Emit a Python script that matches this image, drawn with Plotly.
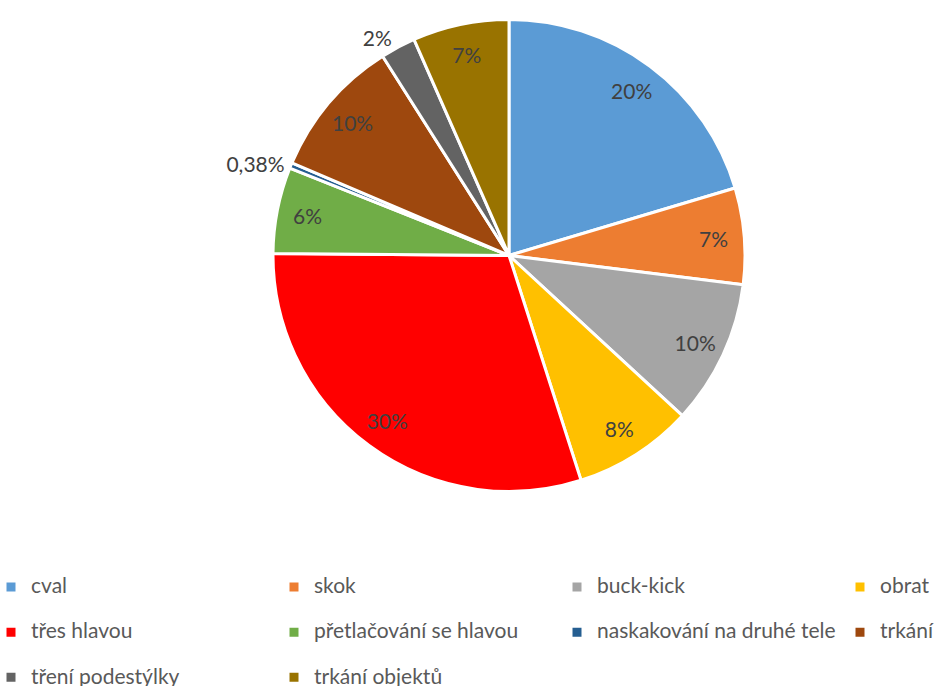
import plotly.graph_objects as go

categories = ["cval", "skok", "buck-kick", "obrat", "třes hlavou",
              "přetlačování se hlavou", "naskakování na druhé tele", "trkání",
              "tření podestýlky", "trkání objektů"]
values = [20.4, 6.6, 9.9, 8.2, 30.1, 5.9, 0.38, 9.6, 2.4, 6.6]
value_labels = ["20%", "7%", "10%", "8%", "30%", "6%", "0,38%", "10%", "2%", "7%"]
colors = ["#5B9BD5", "#ED7D31", "#A5A5A5", "#FFC000", "#FF0000",
          "#70AD47", "#255E91", "#9E480E", "#636363", "#997300"]
text_pos = ["inside", "inside", "inside", "inside", "inside",
            "inside", "outside", "inside", "outside", "inside"]

W, H = 1160, 686              # extra width so the 4-column legend fits; view is 936 wide
MB = 130                      # bottom margin (legend lives below the plot area)
PH = H - MB                   # plot-area height
cx, cy, r = 509, 255.5, 236

dom = dict(x=[(cx - r) / W, (cx + r) / W],
           y=[(PH - (cy + r)) / PH, (PH - (cy - r)) / PH])

legend_labels = ["<span style='font-size:21px'>%s</span><br> " % c for c in categories]

fig = go.Figure()
fig.add_trace(go.Pie(
    labels=legend_labels,
    values=values,
    textinfo="none",
    sort=False,
    direction="clockwise",
    rotation=0,
    marker=dict(colors=colors, line=dict(color="white", width=3)),
    domain=dom,
    hovertext=categories,
    hoverinfo="text+percent",
))
fig.add_trace(go.Pie(
    labels=legend_labels,
    values=values,
    text=value_labels,
    textinfo="text",
    textposition=text_pos,
    insidetextorientation="horizontal",
    hole=0.74,
    sort=False,
    direction="clockwise",
    rotation=0,
    marker=dict(colors=["rgba(0,0,0,0)"] * len(categories), line=dict(width=0)),
    textfont=dict(family="Lato", size=21, color="#404040"),
    outsidetextfont=dict(family="Lato", size=21, color="#404040"),
    domain=dom,
    showlegend=False,
    hoverinfo="skip",
))

fig.update_layout(
    width=W, height=H,
    margin=dict(l=0, r=0, t=0, b=MB, autoexpand=False),
    paper_bgcolor="white",
    plot_bgcolor="white",
    showlegend=True,
    legend=dict(
        orientation="h",
        x=-9 / W, xanchor="left",
        y=(PH - 570) / PH, yanchor="top",
        entrywidth=238, entrywidthmode="pixels",
        valign="top",
        font=dict(family="Lato", size=16.2, color="#595959"),
        traceorder="normal",
    ),
)

fig.write_html(
    "out.html",
    post_script="document.body.style.margin='0';document.body.style.overflow='hidden';"
                "document.documentElement.style.overflow='hidden';",
)
